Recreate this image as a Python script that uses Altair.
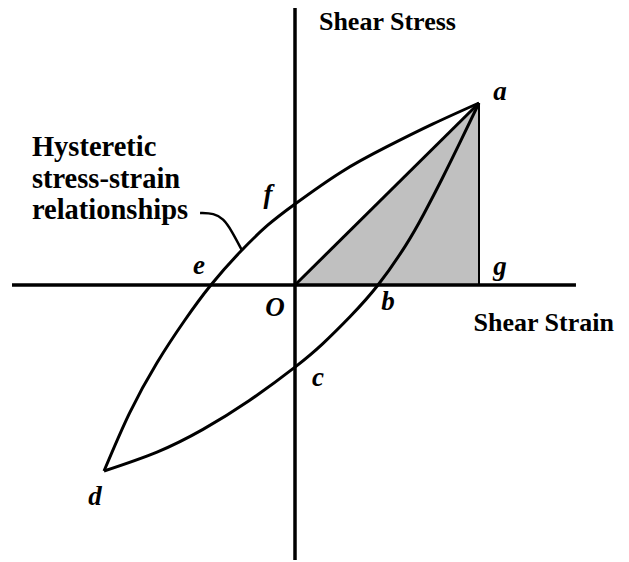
import altair as alt
import pandas as pd

# Hysteresis loop: shear strain (x) vs shear stress (y), peak point a = (1, 1)
upper_x = [-1.038, -0.9, -0.75, -0.6, -0.457, -0.3, -0.15, 0.0, 0.25, 0.5, 0.75, 1.0]
upper_y = [-1.022, -0.705, -0.427, -0.195, 0.0, 0.18, 0.327, 0.445, 0.62, 0.76, 0.885, 1.0]

lower_x = [-1.038, -0.75, -0.5, -0.25, 0.0, 0.15, 0.3, 0.451, 0.6, 0.7, 0.8, 0.9, 1.0]
lower_y = [-1.022, -0.918, -0.793, -0.636, -0.451, -0.323, -0.173, 0.0, 0.215, 0.39, 0.585, 0.79, 1.0]

# Leader from the annotation text to the upper branch
leader_x = [-0.516, -0.440, -0.390, -0.345, -0.288]
leader_y = [0.396, 0.394, 0.365, 0.300, 0.190]

# Axis extents
h_axis = [-1.538, 1.527]
v_axis = [-1.511, 1.522]

# Point labels
pt_names = ["a", "b", "c", "d", "e", "f", "g", "O"]
pt_x = [1.114, 0.505, 0.125, -1.087, -0.522, -0.147, 1.114, -0.109]
pt_y = [1.060, -0.093, -0.511, -1.165, 0.104, 0.495, 0.099, -0.126]

note_lines = ["Hysteretic", "stress-strain", "relationships"]
note_y = [0.758, 0.580, 0.412]
note_x = -1.43

X_DOM = [-295 / 184, 334 / 184]
Y_DOM = [-277 / 182, 285 / 182]

xs = alt.Scale(domain=X_DOM, nice=False, zero=False)
ys = alt.Scale(domain=Y_DOM, nice=False, zero=False)
FONT = "Liberation Serif"


def X(field="x"):
    return alt.X(f"{field}:Q", scale=xs, axis=None)


def Y(field="y"):
    return alt.Y(f"{field}:Q", scale=ys, axis=None)


# Shaded triangle O-a-g (secant modulus region)
tri = pd.DataFrame({"x": [0.0, 1.0], "y": [0.0, 1.0], "y0": [0.0, 0.0]})
shade = alt.Chart(tri).mark_area(color="#c0c0c0", opacity=1).encode(
    x=X(), y=Y(), y2="y0:Q"
)

axes_df = pd.DataFrame({
    "x": [h_axis[0], 0.0],
    "x2": [h_axis[1], 0.0],
    "y": [0.0, v_axis[0]],
    "y2": [0.0, v_axis[1]],
})
axes = alt.Chart(axes_df).mark_rule(color="black", strokeWidth=3.5).encode(
    x=X(), x2="x2:Q", y=Y(), y2="y2:Q"
)

g_df = pd.DataFrame({"x": [1.0], "y": [0.0], "y2": [1.0]})
g_line = alt.Chart(g_df).mark_rule(color="black", strokeWidth=2).encode(
    x=X(), y=Y(), y2="y2:Q"
)

secant_df = pd.DataFrame({"x": [0.0, 1.0], "y": [0.0, 1.0]})
secant = alt.Chart(secant_df).mark_line(color="black", strokeWidth=3).encode(
    x=X(), y=Y()
)


def branch(xv, yv):
    df = pd.DataFrame({"x": xv, "y": yv, "i": list(range(len(xv)))})
    return alt.Chart(df).mark_line(
        color="black", strokeWidth=3, interpolate="natural"
    ).encode(x=X(), y=Y(), order="i:Q")


upper = branch(upper_x, upper_y)
lower = branch(lower_x, lower_y)

leader_df = pd.DataFrame({"x": leader_x, "y": leader_y, "i": list(range(len(leader_x)))})
leader = alt.Chart(leader_df).mark_line(
    color="black", strokeWidth=2.5, interpolate="basis"
).encode(x=X(), y=Y(), order="i:Q")

pts_df = pd.DataFrame({"x": pt_x, "y": pt_y, "t": pt_names})
pt_labels = alt.Chart(pts_df).mark_text(
    font=FONT, fontSize=27, fontStyle="italic", fontWeight="bold",
    color="black", align="center", baseline="middle"
).encode(x=X(), y=Y(), text="t:N")

note_df = pd.DataFrame({"x": [note_x] * 3, "y": note_y, "t": note_lines})
note = alt.Chart(note_df).mark_text(
    font=FONT, fontSize=28.5, fontWeight="bold", color="black",
    align="left", baseline="middle"
).encode(x=X(), y=Y(), text="t:N")

titles_df = pd.DataFrame({
    "x": [0.13, 0.97],
    "y": [1.445, -0.209],
    "t": ["Shear Stress", "Shear Strain"],
})
titles = alt.Chart(titles_df).mark_text(
    font=FONT, fontSize=26, fontWeight="bold", color="black",
    align="left", baseline="middle"
).encode(x=X(), y=Y(), text="t:N")

chart = alt.layer(
    shade, axes, g_line, secant, upper, lower, leader, pt_labels, note, titles
).properties(
    width=629, height=562, padding=0, autosize=alt.AutoSizeParams(type="none"),
    background="white"
).configure_view(stroke=None)

chart.save("out.html", embed_options={"renderer": "svg", "actions": False})
